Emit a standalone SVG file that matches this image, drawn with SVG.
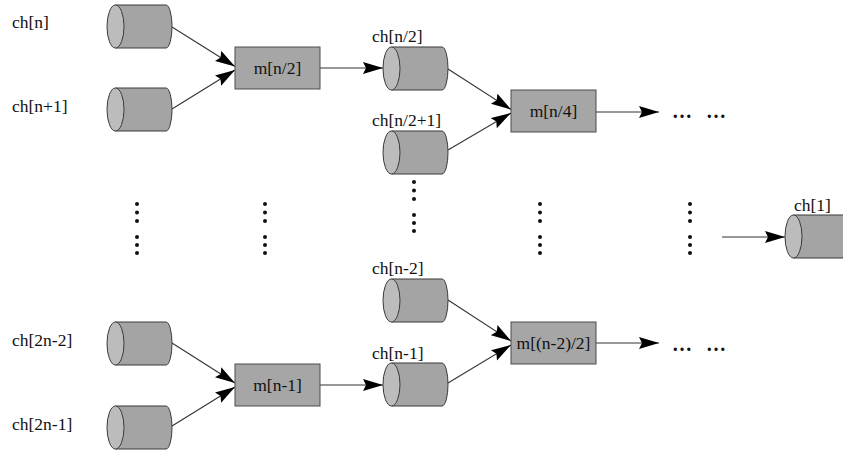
<svg xmlns="http://www.w3.org/2000/svg" xmlns:xlink="http://www.w3.org/1999/xlink" width="843" height="452" viewBox="0 0 843 452">
  <style>
    .lbl { font-family: "Liberation Serif", "Times New Roman", serif; font-size: 17.5px; fill: #111; }
    .mid { text-anchor: middle; }
    .more { font-family: "Liberation Serif", "Times New Roman", serif; font-size: 20px; font-weight: bold; fill: #111; word-spacing: 9px; }
    .box { fill: #a6a6a6; stroke: #4a4a4a; stroke-width: 1; }
    .body { fill: #a4a4a4; stroke: #3a3a3a; stroke-width: 1; }
    .face { fill: #bcbcbc; stroke: #3a3a3a; stroke-width: 1; }
    .edge { fill: none; stroke: #333; stroke-width: 1.1; }
    .dot { fill: #111; }
  </style>
  <defs>
    <marker id="head" markerUnits="userSpaceOnUse" markerWidth="21" markerHeight="13" refX="20" refY="6" orient="auto">
      <path d="M0,0 L20,6 L0,12 L3,6 Z" fill="#000"/>
    </marker>
    <!-- horizontal cylinder, 65 x 43, origin at top-left -->
    <g id="cyl">
      <path class="body" d="M8.5,0 H59 A6,21.5 0 0 1 59,43 H8.5 Z"/>
      <ellipse class="face" cx="8.5" cy="21.5" rx="8.5" ry="21.5"/>
    </g>
    <!-- vertical column of dots -->
    <g id="vdots">
      <circle class="dot" cx="0" cy="0" r="2"/>
      <circle class="dot" cx="0" cy="8.5" r="2"/>
      <circle class="dot" cx="0" cy="17" r="2"/>
      <circle class="dot" cx="0" cy="33" r="2"/>
      <circle class="dot" cx="0" cy="41" r="2"/>
      <circle class="dot" cx="0" cy="49" r="2"/>
    </g>
  </defs>

  <rect width="843" height="452" fill="#fff"/>

  <!-- connectors -->
  <g id="connectors" class="edge" marker-end="url(#head)">
    <line x1="172" y1="27" x2="235" y2="66.5"/>
    <line x1="172" y1="109" x2="235" y2="70"/>
    <line x1="320" y1="68" x2="383" y2="68"/>
    <line x1="448" y1="69" x2="511" y2="109.5"/>
    <line x1="448" y1="150" x2="511" y2="113"/>
    <line x1="596" y1="112" x2="659" y2="112"/>
    <line x1="172" y1="343" x2="235" y2="383"/>
    <line x1="172" y1="426" x2="235" y2="387"/>
    <line x1="320" y1="385" x2="383" y2="385"/>
    <line x1="448" y1="300" x2="511" y2="341"/>
    <line x1="448" y1="383" x2="511" y2="345"/>
    <line x1="596" y1="343" x2="659" y2="343"/>
    <line x1="722" y1="237" x2="785" y2="237"/>
  </g>

  <!-- input channels -->
  <g id="ch-n">
    <text class="lbl" x="12" y="28">ch[n]</text>
    <use xlink:href="#cyl" x="107" y="5"/>
  </g>
  <g id="ch-n1">
    <text class="lbl" x="12" y="112">ch[n+1]</text>
    <use xlink:href="#cyl" x="107" y="88"/>
  </g>
  <g id="ch-2n2">
    <text class="lbl" x="12" y="346">ch[2n-2]</text>
    <use xlink:href="#cyl" x="107" y="322"/>
  </g>
  <g id="ch-2n1">
    <text class="lbl" x="12" y="430">ch[2n-1]</text>
    <use xlink:href="#cyl" x="107" y="406"/>
  </g>

  <!-- first level merge processes -->
  <g id="m-n2">
    <rect class="box" x="235" y="47" width="85" height="42"/>
    <text class="lbl mid" x="277.5" y="74">m[n/2]</text>
  </g>
  <g id="m-n1">
    <rect class="box" x="235" y="364" width="85" height="42"/>
    <text class="lbl mid" x="277.5" y="391">m[n-1]</text>
  </g>

  <!-- intermediate channels -->
  <g id="ch-half">
    <text class="lbl" x="372" y="42">ch[n/2]</text>
    <use xlink:href="#cyl" x="383" y="47"/>
  </g>
  <g id="ch-half1">
    <text class="lbl" x="372" y="126">ch[n/2+1]</text>
    <use xlink:href="#cyl" x="383" y="131"/>
  </g>
  <g id="ch-nm2">
    <text class="lbl" x="372" y="274">ch[n-2]</text>
    <use xlink:href="#cyl" x="383" y="279"/>
  </g>
  <g id="ch-nm1">
    <text class="lbl" x="372" y="359">ch[n-1]</text>
    <use xlink:href="#cyl" x="383" y="363"/>
  </g>

  <!-- second level merge processes -->
  <g id="m-n4">
    <rect class="box" x="511" y="90" width="85" height="42"/>
    <text class="lbl mid" x="553.5" y="117">m[n/4]</text>
  </g>
  <g id="m-n22">
    <rect class="box" x="511" y="322" width="85" height="42"/>
    <text class="lbl mid" x="553.5" y="349">m[(n-2)/2]</text>
  </g>

  <!-- continuation marks -->
  <g id="more-top">
    <text class="more" x="672" y="118">… …</text>
  </g>
  <g id="more-bottom">
    <text class="more" x="672" y="351">… …</text>
  </g>
  <g id="gaps">
    <use xlink:href="#vdots" x="137" y="204"/>
    <use xlink:href="#vdots" x="265" y="204"/>
    <use xlink:href="#vdots" x="414" y="182"/>
    <use xlink:href="#vdots" x="540" y="204"/>
    <use xlink:href="#vdots" x="690" y="204"/>
  </g>

  <!-- final output channel -->
  <g id="ch-1">
    <text class="lbl" x="794" y="211">ch[1]</text>
    <use xlink:href="#cyl" x="785" y="215"/>
  </g>
</svg>
